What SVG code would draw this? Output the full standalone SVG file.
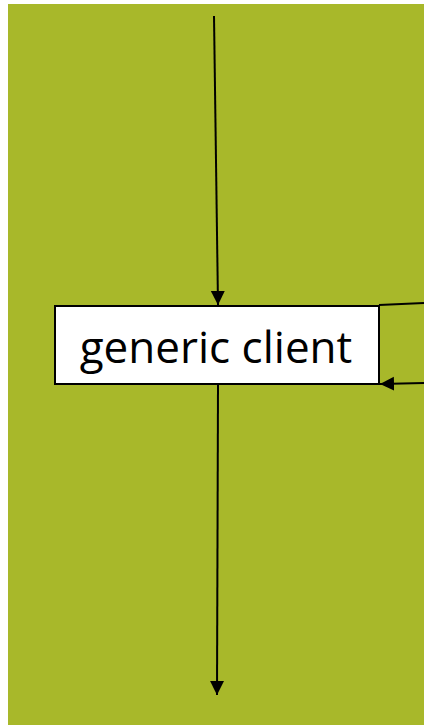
<svg xmlns="http://www.w3.org/2000/svg" width="424" height="725" viewBox="0 0 424 725">
<defs>
<marker id="ah" markerWidth="16" markerHeight="16" refX="14" refY="7" orient="auto" markerUnits="userSpaceOnUse">
<path d="M0,0 L14,7 L0,14 Z" fill="#000"/>
</marker>
<style>
.conn{stroke:#000;stroke-width:2;fill:none}
.node{fill:#fff;stroke:#000;stroke-width:2}
.lbl{font-family:"Open Sans","Noto Sans",sans-serif;font-size:44px;fill:#000}
</style>
</defs>
<rect x="0" y="0" width="424" height="725" fill="#fff"/>
<rect x="8" y="4" width="416" height="721" fill="#a8b82a"/>
<g id="node-generic-client">
<rect class="node" x="55" y="306" width="324" height="78"/>
<text class="lbl" x="216" y="363" text-anchor="middle">generic client</text>
</g>
<g id="connectors">
<path class="conn" d="M214,16 L218,305" marker-end="url(#ah)"/>
<path class="conn" d="M218,385 L217,695" marker-end="url(#ah)"/>
<path class="conn" d="M379,305 L424,303"/>
<path class="conn" d="M424,383 L380,384" marker-end="url(#ah)"/>
</g>
</svg>
